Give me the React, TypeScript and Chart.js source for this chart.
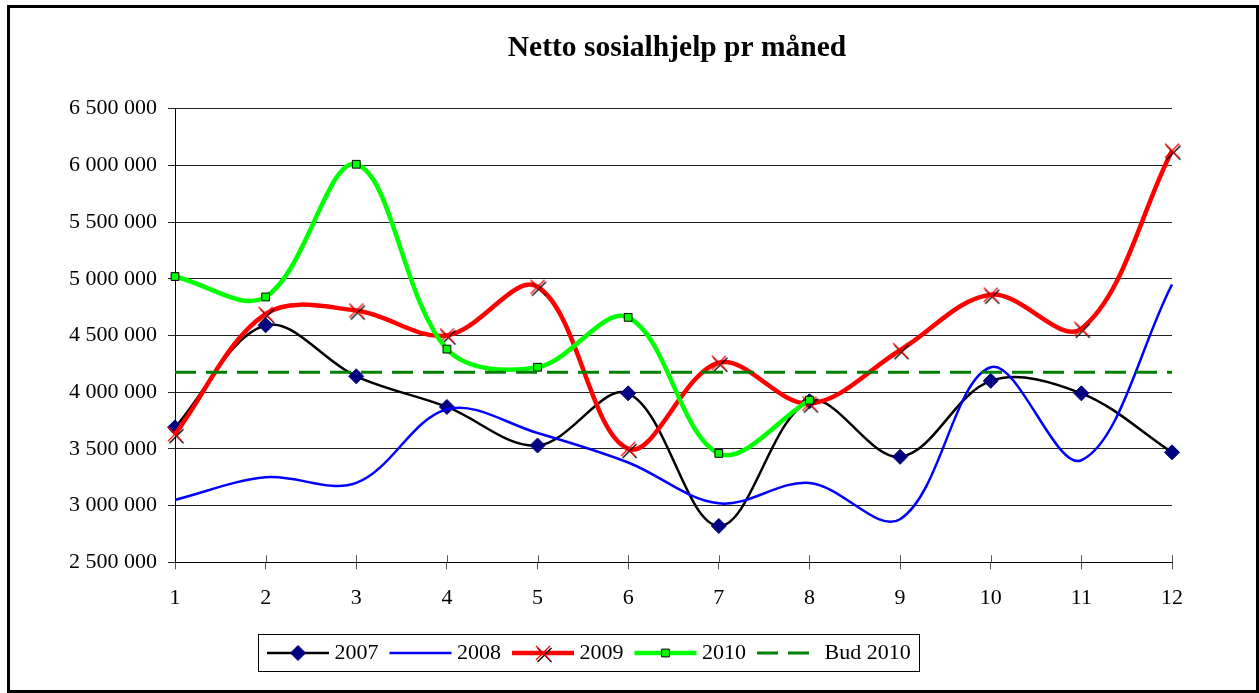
import React, { useEffect, useRef } from 'react';
import { Chart, registerables } from 'chart.js';

Chart.register(...registerables);

const FONT = "'Times New Roman', 'Liberation Serif', serif";

const chartTitle = 'Netto sosialhjelp pr måned';
const categories = ['1', '2', '3', '4', '5', '6', '7', '8', '9', '10', '11', '12'];
const seriesNames = ['2007', '2008', '2009', '2010', 'Bud 2010'];

const values2007 = [3690000, 4590000, 4140000, 3870000, 3530000, 3990000, 2820000, 3920000, 3430000, 4100000, 3990000, 3470000];
const values2008 = [3050000, 3250000, 3200000, 3850000, 3640000, 3380000, 3020000, 3200000, 2880000, 4220000, 3400000, 4950000];
const values2009 = [3630000, 4690000, 4720000, 4500000, 4930000, 3500000, 4260000, 3900000, 4370000, 4860000, 4560000, 6130000];
const values2010 = [5020000, 4840000, 6010000, 4380000, 4220000, 4660000, 3460000, 3930000, null, null, null, null];
const valuesBud2010 = [4175000, 4175000, 4175000, 4175000, 4175000, 4175000, 4175000, 4175000, 4175000, 4175000, 4175000, 4175000];

const yMin = 2500000;
const yMax = 6500000;
const yStep = 500000;

function formatThousands(v: number): string {
  return String(Math.round(v)).replace(/\B(?=(\d{3})+(?!\d))/g, ' ');
}

function makeCrossMarker(): HTMLCanvasElement {
  const c = document.createElement('canvas');
  c.width = 24;
  c.height = 24;
  const g = c.getContext('2d') as CanvasRenderingContext2D;
  const r = 7;
  const draw = (cx: number, cy: number, color: string) => {
    g.strokeStyle = color;
    g.lineWidth = 1.3;
    g.beginPath();
    g.moveTo(cx - r, cy - r);
    g.lineTo(cx + r, cy + r);
    g.moveTo(cx + r, cy - r);
    g.lineTo(cx - r, cy + r);
    g.stroke();
  };
  draw(13.5, 14, '#000000');
  draw(12, 12, '#ff0000');
  return c;
}

function drawMarker(ctx: CanvasRenderingContext2D, ds: any, cx: number, cy: number) {
  const style = ds.pointStyle;
  const r = ds.pointRadius || 0;
  if (!r) return;
  if (style && typeof style === 'object') {
    ctx.drawImage(style, cx - style.width / 2, cy - style.height / 2);
    return;
  }
  ctx.save();
  ctx.setLineDash([]);
  ctx.fillStyle = ds.pointBackgroundColor;
  ctx.strokeStyle = ds.pointBorderColor;
  ctx.lineWidth = ds.pointBorderWidth || 1;
  ctx.beginPath();
  if (style === 'rectRot') {
    ctx.moveTo(cx - r, cy);
    ctx.lineTo(cx, cy - r);
    ctx.lineTo(cx + r, cy);
    ctx.lineTo(cx, cy + r);
    ctx.closePath();
  } else if (style === 'rect') {
    const s = Math.SQRT1_2 * r;
    ctx.rect(cx - s, cy - s, 2 * s, 2 * s);
  }
  ctx.fill();
  ctx.stroke();
  ctx.restore();
}

const framePlugin = {
  id: 'frame',
  beforeDraw(chart: any) {
    const ctx = chart.ctx as CanvasRenderingContext2D;
    ctx.save();
    ctx.fillStyle = '#ffffff';
    ctx.fillRect(0, 0, chart.width, chart.height);
    ctx.strokeStyle = '#000000';
    ctx.lineWidth = 3;
    ctx.strokeRect(8.5, 6.5, chart.width - 10, chart.height - 8);
    ctx.restore();
  },
  afterDraw(chart: any) {
    const ctx = chart.ctx as CanvasRenderingContext2D;
    ctx.save();
    ctx.font = `bold 29.5px ${FONT}`;
    ctx.fillStyle = '#000000';
    ctx.textAlign = 'center';
    ctx.textBaseline = 'middle';
    ctx.fillText(chartTitle, 677, 48.3);
    ctx.restore();
  },
};

const upTicksPlugin = {
  id: 'upTicks',
  beforeDatasetsDraw(chart: any) {
    const ctx = chart.ctx as CanvasRenderingContext2D;
    const xs = chart.scales.x;
    const bottom = chart.chartArea.bottom;
    ctx.save();
    ctx.strokeStyle = '#555555';
    ctx.lineWidth = 1;
    ctx.beginPath();
    for (let i = 1; i < xs.ticks.length; i++) {
      const px = Math.round(xs.getPixelForTick(i)) + 0.5;
      ctx.moveTo(px, bottom - 7);
      ctx.lineTo(px, bottom);
    }
    ctx.stroke();
    ctx.restore();
  },
};

const legendPlugin = {
  id: 'excelLegend',
  afterDraw(chart: any) {
    const ctx = chart.ctx as CanvasRenderingContext2D;
    const y = 653;
    const sampleLen = 62;
    ctx.save();
    ctx.font = `22px ${FONT}`;
    let x = 267;
    const items = chart.data.datasets.map((ds: any) => {
      const tw = ctx.measureText(ds.label).width;
      const item = { ds, x, tx: x + sampleLen + 5.5, tw };
      x = item.tx + tw + 11;
      return item;
    });
    const last = items[items.length - 1];
    const boxL = 258.5;
    const boxR = Math.round(last.tx + last.tw + 8) + 0.5;
    ctx.fillStyle = '#ffffff';
    ctx.fillRect(boxL, 634.5, boxR - boxL, 37);
    ctx.strokeStyle = '#000000';
    ctx.lineWidth = 1;
    ctx.strokeRect(boxL, 634.5, boxR - boxL, 37);

    items.forEach((it: any) => {
      const ds = it.ds;
      ctx.save();
      ctx.strokeStyle = ds.borderColor;
      ctx.lineWidth = ds.borderWidth;
      ctx.setLineDash(ds.borderDash || []);
      ctx.lineCap = 'butt';
      ctx.beginPath();
      ctx.moveTo(it.x, y);
      ctx.lineTo(it.x + sampleLen, y);
      ctx.stroke();
      ctx.restore();
      drawMarker(ctx, ds, it.x + sampleLen / 2, y);
      ctx.fillStyle = '#000000';
      ctx.textBaseline = 'middle';
      ctx.textAlign = 'left';
      ctx.fillText(ds.label, it.tx, y);
    });
    ctx.restore();
  },
};

export default function App() {
  const canvasRef = useRef<HTMLCanvasElement | null>(null);

  useEffect(() => {
    const canvas = canvasRef.current;
    if (!canvas) return;
    const crossMarker = makeCrossMarker();
    const smooth = 0.35;

    const chart = new Chart(canvas, {
      type: 'line',
      data: {
        labels: categories,
        datasets: [
          {
            label: seriesNames[0],
            data: values2007,
            borderColor: '#000000',
            borderWidth: 2.5,
            tension: smooth,
            pointStyle: 'rectRot',
            pointRadius: 7.5,
            pointBackgroundColor: '#000080',
            pointBorderColor: '#000080',
            pointBorderWidth: 1,
            borderJoinStyle: 'round',
            clip: false,
            order: 5,
          },
          {
            label: seriesNames[1],
            data: values2008,
            borderColor: '#0000ff',
            borderWidth: 2.5,
            tension: smooth,
            pointRadius: 0,
            borderJoinStyle: 'round',
            clip: false,
            order: 4,
          },
          {
            label: seriesNames[2],
            data: values2009,
            borderColor: '#ff0000',
            borderWidth: 4.5,
            tension: smooth,
            pointStyle: crossMarker,
            pointRadius: 8,
            borderJoinStyle: 'round',
            clip: false,
            order: 3,
          },
          {
            label: seriesNames[3],
            data: values2010,
            borderColor: '#00ff00',
            borderWidth: 4.5,
            tension: smooth,
            pointStyle: 'rect',
            pointRadius: 5.5,
            pointBackgroundColor: '#00ff00',
            pointBorderColor: '#000000',
            pointBorderWidth: 1,
            borderJoinStyle: 'round',
            spanGaps: false,
            clip: false,
            order: 2,
          },
          {
            label: seriesNames[4],
            data: valuesBud2010,
            borderColor: '#008000',
            borderWidth: 3,
            borderDash: [21, 10],
            tension: 0,
            pointRadius: 0,
            clip: false,
            order: 1,
          },
        ] as any,
      },
      options: {
        responsive: false,
        animation: false,
        devicePixelRatio: 1,
        layout: { padding: { left: 0, right: 87, top: 108.7, bottom: 0 } },
        plugins: {
          legend: { display: false },
          tooltip: { enabled: false },
          title: { display: false },
        },
        scales: {
          x: {
            type: 'category',
            offset: false,
            grid: {
              display: true,
              drawOnChartArea: false,
              drawTicks: true,
              tickLength: 7,
              color: '#555555',
            },
            border: { display: true, color: '#000000', width: 1 },
            ticks: {
              color: '#000000',
              font: { family: FONT, size: 22, lineHeight: 1.2 },
              padding: 16,
              maxRotation: 0,
              autoSkip: false,
            },
            afterFit: (scale: any) => {
              scale.height = 130.7;
            },
          },
          y: {
            type: 'linear',
            min: yMin,
            max: yMax,
            grid: {
              color: '#222222',
              lineWidth: 1,
              tickLength: 7,
              drawTicks: true,
            },
            border: { display: true, color: '#000000', width: 1 },
            ticks: {
              stepSize: yStep,
              color: '#000000',
              font: { family: FONT, size: 22, lineHeight: 1.2 },
              padding: 11,
              callback: (v: any) => formatThousands(Number(v)),
            },
            afterFit: (scale: any) => {
              scale.width = 175;
            },
          },
        },
      } as any,
      plugins: [framePlugin, upTicksPlugin, legendPlugin],
    });

    return () => {
      chart.destroy();
    };
  }, []);

  return (
    <div style={{ position: 'absolute', left: 0, top: 0, width: 1259, height: 693 }}>
      <canvas ref={canvasRef} width={1259} height={693} style={{ display: 'block' }} />
    </div>
  );
}
